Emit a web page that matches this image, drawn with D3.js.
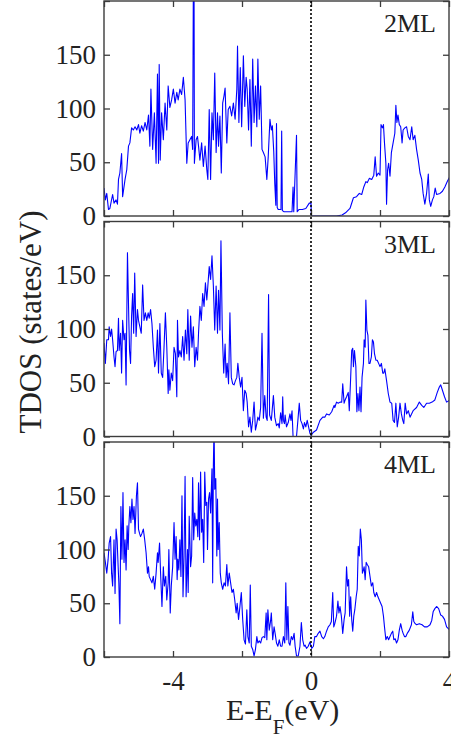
<!DOCTYPE html>
<html>
<head>
<meta charset="utf-8">
<script src="https://cdn.jsdelivr.net/npm/d3@7"></script>
<style>
  body { margin: 0; background: #fff; }
  svg { display: block; }
  .frame { fill: none; stroke: #3c3c3c; stroke-width: 1.4; }
  .dos { fill: none; stroke: #0000ff; stroke-width: 1.1; stroke-linejoin: round; }
  .axis path { display: none; }
  .axis line { stroke: #3c3c3c; stroke-width: 1.3; }
  .axis text { font-size: 27px; fill: #222; }
  .lbl { fill: #222; }
</style>
</head>
<body>
<svg width="451" height="740"></svg>
<script>
var SERIF = "'Liberation Serif', Tinos, 'Times New Roman', 'DejaVu Serif', serif";

// panel names
var panelNames = ["2ML", "3ML", "4ML"];

// x ticks (eV) and which of them get a label
var xTicks  = [-6, -4, -2, 0, 2, 4];
var xLabels = [-4, 0, 4];
var yTicks  = [0, 50, 100, 150, 200];
var yLabels = [0, 50, 100, 150];

// total DOS, [E - E_F (eV), states/eV]
var dos2ML = [
  [-6.00,26],[-5.96,15],[-5.92,21],[-5.87,6],[-5.83,7],[-5.75,20],[-5.71,12],[-5.65,15],[-5.61,11],[-5.58,34],
  [-5.54,40],[-5.49,58],[-5.46,18],[-5.39,34],[-5.34,43],[-5.29,65],[-5.25,68],[-5.20,82],[-5.15,80],[-5.10,83],
  [-5.05,80],[-5.00,85],[-4.96,77],[-4.91,84],[-4.86,79],[-4.81,87],[-4.76,80],[-4.71,94],[-4.67,65],[-4.64,118],
  [-4.59,62],[-4.54,96],[-4.49,49],[-4.45,132],[-4.42,49],[-4.40,141],[-4.37,52],[-4.33,96],[-4.28,71],[-4.23,105],
  [-4.18,80],[-4.14,121],[-4.09,101],[-4.04,108],[-3.99,118],[-3.94,105],[-3.89,115],[-3.85,108],[-3.80,118],[-3.75,113],
  [-3.70,129],[-3.65,108],[-3.60,49],[-3.56,68],[-3.51,71],[-3.46,74],[-3.43,62],[-3.41,215],[-3.39,215],[-3.38,49],
  [-3.33,71],[-3.29,74],[-3.26,65],[-3.22,52],[-3.17,68],[-3.12,46],[-3.07,65],[-3.02,43],[-2.99,34],[-2.95,99],
  [-2.91,34],[-2.87,96],[-2.83,71],[-2.79,133],[-2.75,59],[-2.71,96],[-2.68,65],[-2.64,93],[-2.60,40],[-2.56,105],
  [-2.52,112],[-2.49,119],[-2.44,68],[-2.40,99],[-2.35,102],[-2.30,93],[-2.25,105],[-2.20,90],[-2.15,118],[-2.13,158],
  [-2.09,87],[-2.05,138],[-2.01,83],[-1.96,149],[-1.92,102],[-1.88,129],[-1.85,118],[-1.81,80],[-1.77,127],[-1.73,65],
  [-1.69,146],[-1.65,87],[-1.61,121],[-1.57,83],[-1.54,146],[-1.50,90],[-1.46,121],[-1.42,62],[-1.38,59],[-1.33,55],
  [-1.28,34],[-1.24,55],[-1.19,90],[-1.15,80],[-1.12,84],[-1.08,60],[-1.05,30],[-1.02,10],[-1.00,86],[-0.98,8],
  [-0.95,6],[-0.87,6],[-0.85,79],[-0.83,5],[-0.78,4],[-0.55,4],[-0.52,27],[-0.50,4],[-0.42,75],[-0.40,4],
  [-0.35,6],[-0.25,6],[-0.15,7],[-0.05,12],[0.00,12],[0.01,0],[0.74,0],[0.90,1],[1.00,3],[1.13,7],
  [1.23,17],[1.32,18],[1.40,21],[1.47,20],[1.53,27],[1.59,32],[1.63,31],[1.69,35],[1.76,34],[1.82,38],
  [1.86,55],[1.90,37],[1.95,40],[2.00,38],[2.03,85],[2.07,82],[2.10,85],[2.13,68],[2.17,49],[2.19,11],
  [2.22,43],[2.25,49],[2.29,37],[2.33,59],[2.38,68],[2.43,77],[2.46,103],[2.49,87],[2.52,94],[2.56,85],
  [2.60,83],[2.64,68],[2.67,80],[2.72,82],[2.77,83],[2.82,74],[2.87,71],[2.92,83],[2.96,71],[3.01,75],
  [3.06,62],[3.11,52],[3.16,40],[3.21,34],[3.25,21],[3.30,11],[3.35,21],[3.40,39],[3.43,15],[3.47,9],
  [3.52,15],[3.56,18],[3.60,26],[3.64,20],[3.74,21],[3.81,23],[3.88,27],[3.95,32],[4.03,37]
];

var dos3ML = [
  [-6.00,87],[-5.96,68],[-5.92,90],[-5.87,90],[-5.85,102],[-5.81,93],[-5.78,100],[-5.75,90],[-5.71,74],[-5.68,65],
  [-5.65,79],[-5.61,80],[-5.58,110],[-5.56,80],[-5.52,96],[-5.49,59],[-5.46,108],[-5.42,90],[-5.39,96],[-5.36,48],
  [-5.32,171],[-5.28,108],[-5.26,80],[-5.23,68],[-5.20,112],[-5.17,133],[-5.14,96],[-5.11,152],[-5.07,93],[-5.03,118],
  [-5.00,108],[-4.96,102],[-4.92,96],[-4.88,141],[-4.84,108],[-4.80,115],[-4.76,108],[-4.72,115],[-4.69,110],[-4.65,118],
  [-4.61,105],[-4.57,83],[-4.53,65],[-4.49,71],[-4.45,99],[-4.42,59],[-4.38,105],[-4.34,59],[-4.30,55],[-4.26,83],
  [-4.22,115],[-4.18,83],[-4.14,40],[-4.12,62],[-4.09,43],[-4.05,59],[-4.01,52],[-3.97,83],[-3.93,77],[-3.89,37],
  [-3.87,108],[-3.84,74],[-3.80,80],[-3.76,74],[-3.72,93],[-3.68,71],[-3.64,99],[-3.60,77],[-3.57,118],[-3.53,71],
  [-3.49,112],[-3.45,83],[-3.41,102],[-3.37,65],[-3.33,83],[-3.29,71],[-3.26,96],[-3.22,121],[-3.18,108],[-3.14,133],
  [-3.10,121],[-3.06,143],[-3.02,127],[-2.99,140],[-2.95,158],[-2.91,146],[-2.87,168],[-2.83,140],[-2.79,99],[-2.75,140],
  [-2.71,96],[-2.68,136],[-2.64,99],[-2.61,182],[-2.57,96],[-2.53,59],[-2.49,86],[-2.46,55],[-2.43,68],[-2.39,49],
  [-2.35,115],[-2.31,55],[-2.27,49],[-2.23,48],[-2.19,52],[-2.15,55],[-2.12,68],[-2.08,55],[-2.04,46],[-2.00,55],
  [-1.96,24],[-1.92,43],[-1.88,40],[-1.85,32],[-1.81,9],[-1.77,18],[-1.73,4],[-1.69,15],[-1.65,32],[-1.61,6],
  [-1.57,12],[-1.54,18],[-1.50,15],[-1.46,27],[-1.42,96],[-1.38,17],[-1.34,38],[-1.30,18],[-1.27,15],[-1.23,132],
  [-1.20,20],[-1.15,15],[-1.09,38],[-1.05,18],[-1.00,10],[-0.95,12],[-0.92,8],[-0.88,22],[-0.84,12],[-0.82,37],
  [-0.80,15],[-0.77,12],[-0.75,20],[-0.71,9],[-0.66,13],[-0.61,21],[-0.58,15],[-0.55,24],[-0.52,0],[-0.42,0],
  [-0.38,15],[-0.34,31],[-0.30,15],[-0.26,12],[-0.22,7],[-0.19,13],[-0.15,9],[-0.11,15],[-0.07,9],[-0.03,3],
  [0.00,1],[0.07,4],[0.16,6],[0.26,15],[0.34,18],[0.40,18],[0.45,21],[0.53,20],[0.60,23],[0.67,29],
  [0.69,27],[0.74,32],[0.79,31],[0.84,32],[0.89,32],[0.92,49],[0.96,31],[0.99,34],[1.03,37],[1.08,41],
  [1.11,24],[1.15,55],[1.18,80],[1.21,82],[1.23,65],[1.26,80],[1.30,65],[1.33,23],[1.36,40],[1.39,24],
  [1.42,46],[1.45,23],[1.48,55],[1.52,68],[1.54,90],[1.57,83],[1.59,127],[1.62,99],[1.65,94],[1.68,68],
  [1.71,68],[1.75,74],[1.78,90],[1.81,88],[1.84,77],[1.88,71],[1.92,71],[1.96,68],[2.00,65],[2.04,68],
  [2.08,59],[2.11,59],[2.14,63],[2.19,52],[2.24,40],[2.29,32],[2.34,31],[2.38,15],[2.42,13],[2.46,31],
  [2.50,9],[2.54,18],[2.58,31],[2.62,21],[2.66,15],[2.69,12],[2.73,31],[2.77,21],[2.82,24],[2.87,18],
  [2.96,24],[3.06,27],[3.14,32],[3.21,29],[3.27,27],[3.35,31],[3.43,31],[3.51,32],[3.59,34],[3.66,41],
  [3.72,46],[3.76,48],[3.81,43],[3.87,37],[3.93,32],[4.03,34]
];

var dos4ML = [
  [-6.00,97],[-5.96,88],[-5.92,78],[-5.88,91],[-5.85,106],[-5.81,112],[-5.78,78],[-5.75,66],[-5.71,109],[-5.68,59],
  [-5.65,119],[-5.62,109],[-5.59,84],[-5.57,69],[-5.54,31],[-5.51,140],[-5.48,91],[-5.45,153],[-5.42,88],[-5.39,109],
  [-5.36,81],[-5.33,122],[-5.30,100],[-5.28,122],[-5.25,140],[-5.22,125],[-5.19,147],[-5.16,128],[-5.13,140],[-5.10,115],
  [-5.06,150],[-5.03,162],[-5.00,119],[-4.97,115],[-4.94,112],[-4.90,115],[-4.86,119],[-4.82,109],[-4.78,97],[-4.74,78],
  [-4.71,84],[-4.69,75],[-4.65,72],[-4.61,69],[-4.57,75],[-4.53,63],[-4.49,78],[-4.45,97],[-4.43,88],[-4.39,106],
  [-4.36,78],[-4.32,47],[-4.28,84],[-4.25,66],[-4.21,75],[-4.18,53],[-4.14,69],[-4.12,100],[-4.08,41],[-4.05,66],
  [-4.01,84],[-3.97,125],[-3.94,91],[-3.91,112],[-3.88,72],[-3.86,91],[-3.83,81],[-3.80,109],[-3.77,75],[-3.74,150],
  [-3.71,56],[-3.68,94],[-3.65,168],[-3.62,56],[-3.58,100],[-3.56,60],[-3.53,131],[-3.49,84],[-3.46,94],[-3.43,167],
  [-3.40,109],[-3.37,134],[-3.34,122],[-3.31,128],[-3.28,112],[-3.26,162],[-3.23,109],[-3.20,172],[-3.17,116],[-3.14,128],
  [-3.11,88],[-3.08,172],[-3.05,141],[-3.02,144],[-3.00,100],[-2.97,147],[-2.94,153],[-2.91,134],[-2.87,175],[-2.85,69],
  [-2.83,178],[-2.81,215],[-2.79,156],[-2.76,166],[-2.73,94],[-2.71,147],[-2.69,100],[-2.66,125],[-2.63,78],[-2.60,69],
  [-2.56,63],[-2.52,69],[-2.48,66],[-2.44,86],[-2.41,66],[-2.37,78],[-2.33,69],[-2.29,60],[-2.25,63],[-2.21,53],
  [-2.17,41],[-2.14,50],[-2.10,35],[-2.06,47],[-2.02,60],[-1.98,35],[-1.94,16],[-1.90,12],[-1.86,44],[-1.83,19],
  [-1.79,13],[-1.76,67],[-1.73,10],[-1.69,7],[-1.65,1],[-1.61,7],[-1.57,19],[-1.54,13],[-1.50,15],[-1.46,13],
  [-1.42,18],[-1.38,19],[-1.34,18],[-1.30,41],[-1.28,16],[-1.25,44],[-1.21,25],[-1.17,34],[-1.15,41],[-1.11,16],
  [-1.07,28],[-1.04,22],[-1.00,13],[-0.96,10],[-0.92,16],[-0.88,10],[-0.84,10],[-0.80,19],[-0.76,13],[-0.73,69],
  [-0.70,16],[-0.67,47],[-0.64,13],[-0.61,11],[-0.57,19],[-0.53,16],[-0.49,22],[-0.46,10],[-0.42,1],[-0.37,1],
  [-0.32,10],[-0.28,32],[-0.24,16],[-0.20,10],[-0.17,11],[-0.13,8],[-0.08,10],[-0.03,14],[0.02,8],[0.07,10],
  [0.11,19],[0.16,19],[0.21,22],[0.26,24],[0.31,19],[0.36,17],[0.40,19],[0.45,24],[0.50,28],[0.55,30],
  [0.59,33],[0.63,60],[0.66,28],[0.69,31],[0.74,38],[0.78,52],[0.81,41],[0.84,47],[0.88,38],[0.92,22],
  [0.96,35],[0.99,41],[1.03,84],[1.06,66],[1.09,72],[1.12,38],[1.15,56],[1.18,35],[1.21,24],[1.24,38],
  [1.27,44],[1.31,56],[1.34,63],[1.37,103],[1.40,94],[1.43,119],[1.46,109],[1.49,78],[1.52,81],[1.54,84],
  [1.57,72],[1.60,88],[1.63,86],[1.67,84],[1.71,75],[1.75,66],[1.79,69],[1.82,60],[1.86,56],[1.90,60],
  [1.94,56],[1.98,53],[2.02,50],[2.06,47],[2.10,38],[2.13,28],[2.17,16],[2.21,19],[2.25,16],[2.29,19],
  [2.33,22],[2.37,24],[2.40,16],[2.44,17],[2.48,13],[2.52,16],[2.56,25],[2.60,31],[2.64,25],[2.67,22],
  [2.71,19],[2.75,19],[2.79,22],[2.85,25],[2.91,30],[2.95,42],[2.98,33],[3.02,31],[3.06,30],[3.14,31],
  [3.22,30],[3.29,28],[3.37,28],[3.45,30],[3.50,34],[3.54,42],[3.59,45],[3.64,47],[3.70,45],[3.76,39],
  [3.81,38],[3.87,35],[3.93,28],[4.03,25]
];

var series = [dos2ML, dos3ML, dos4ML];

var svg = d3.select("svg"),
    left = 104, right = 449,
    panelH = 215, panelStep = 220.5, top0 = 1;

var x = d3.scaleLinear().domain([-6, 4]).range([left, right]);

series.forEach(function (data, i) {
  var top = top0 + i * panelStep,
      bottom = top + panelH;
  var y = d3.scaleLinear().domain([0, 200]).range([bottom, top]);
  var g = svg.append("g");

  g.append("clipPath").attr("id", "clip" + i)
    .append("rect")
      .attr("x", left).attr("y", top)
      .attr("width", right - left).attr("height", panelH);

  var line = d3.line()
    .x(function (d) { return x(d[0]); })
    .y(function (d) { return y(d[1]); });

  g.append("path")
    .datum(data)
    .attr("class", "dos")
    .attr("clip-path", "url(#clip" + i + ")")
    .attr("d", line);

  // inward ticks on all four sides
  g.append("g").attr("class", "axis")
    .attr("transform", "translate(0," + bottom + ")")
    .call(d3.axisBottom(x).tickValues(xTicks).tickSize(-6).tickPadding(14)
      .tickFormat(function (d) { return (i == 2 && xLabels.indexOf(d) >= 0) ? String(d) : ""; }));
  g.append("g").attr("class", "axis")
    .attr("transform", "translate(0," + top + ")")
    .call(d3.axisTop(x).tickValues(xTicks).tickSize(-6).tickFormat(""));
  g.append("g").attr("class", "axis")
    .attr("transform", "translate(" + left + ",0)")
    .call(d3.axisLeft(y).tickValues(yTicks).tickSize(-6).tickPadding(8)
      .tickFormat(function (d) { return yLabels.indexOf(d) >= 0 ? String(d) : ""; }));
  g.append("g").attr("class", "axis")
    .attr("transform", "translate(" + right + ",0)")
    .call(d3.axisRight(y).tickValues(yTicks).tickSize(-6).tickFormat(""));

  g.append("rect")
    .attr("class", "frame")
    .attr("x", left).attr("y", top)
    .attr("width", right - left).attr("height", panelH);

  g.append("text")
    .attr("class", "lbl")
    .attr("font-family", SERIF)
    .attr("x", right - 13).attr("y", top + 31)
    .attr("text-anchor", "end")
    .attr("font-size", 26)
    .text(panelNames[i]);
});

svg.selectAll(".axis")
  .attr("font-family", SERIF)
  .attr("font-size", 27);

// Fermi level
svg.append("line")
  .attr("x1", x(0)).attr("x2", x(0))
  .attr("y1", top0).attr("y2", top0 + 2 * panelStep + panelH)
  .attr("stroke", "#000").attr("stroke-width", 1.6)
  .attr("stroke-dasharray", "2,2");

// axis titles
var xt = svg.append("text")
  .attr("class", "lbl")
  .attr("font-family", SERIF)
  .attr("x", 226).attr("y", 720)
  .attr("font-size", 30);
xt.append("tspan").text("E-E");
xt.append("tspan").attr("font-size", 21).attr("dy", 14).text("F");
xt.append("tspan").attr("dy", -14).text("(eV)");

svg.append("text")
  .attr("class", "lbl")
  .attr("font-family", SERIF)
  .attr("transform", "translate(41,322) rotate(-90)")
  .attr("text-anchor", "middle")
  .attr("font-size", 31)
  .text("TDOS (states/eV)");
</script>
</body>
</html>
